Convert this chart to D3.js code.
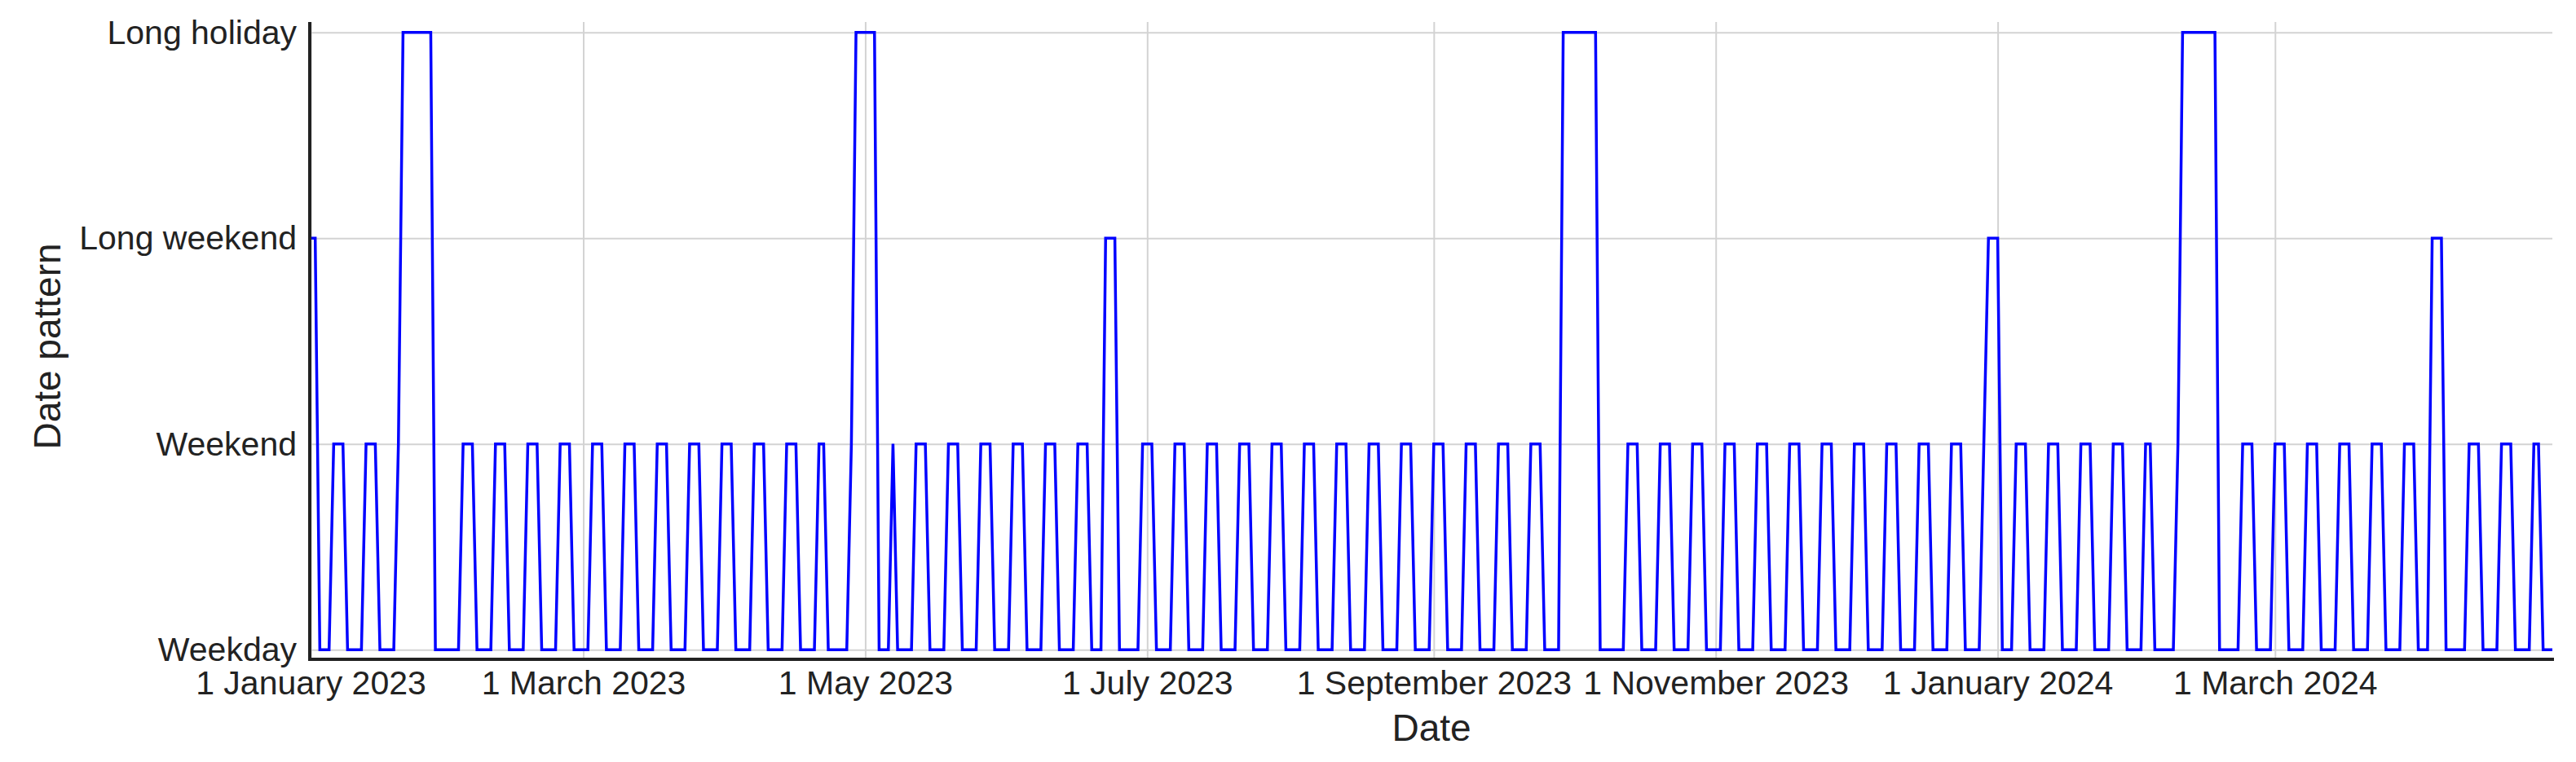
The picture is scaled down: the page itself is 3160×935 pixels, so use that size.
<!DOCTYPE html>
<html>
<head>
<meta charset="utf-8">
<script src="https://cdn.jsdelivr.net/npm/d3@7"></script>
<style>
  html, body { margin: 0; padding: 0; background: #ffffff; }
  svg { display: block; }
  text { font-family: "Liberation Sans", Arial, Helvetica, sans-serif; }
</style>
</head>
<body>
<svg id="chart" width="3160" height="935"></svg>
<script>
// ---- DATA ----
const categories = ["Weekday", "Weekend", "Long weekend", "Long holiday"];

// Daily pattern codes (index into categories), one string per month, starting 1 January 2023
const monthStarts = [
  "2023-01", "2023-02", "2023-03", "2023-04", "2023-05", "2023-06",
  "2023-07", "2023-08", "2023-09", "2023-10", "2023-11", "2023-12",
  "2024-01", "2024-02", "2024-03", "2024-04"
];
const dailyCodes = [
  "2200011100001110000133333330000",   // Jan 2023
  "0011100001110000111000011100",      // Feb 2023
  "0011100001110000111000011100001",   // Mar 2023
  "110000111000011100001100000133",    // Apr 2023
  "3330001000011100001110000111000",   // May 2023
  "011100001110000111000222000001",    // Jun 2023
  "1100001110000111000011100001110",   // Jul 2023
  "0001110000111000011100001110000",   // Aug 2023
  "111000011100001110000111000033",    // Sep 2023
  "3333330000001110000111000011100",   // Oct 2023
  "001110000111000011100001110000",    // Nov 2023
  "1110000111000011100001110000122",   // Dec 2023
  "2000111000011100001110000111000",   // Jan 2024
  "01100000133333333000001110000",     // Feb 2024
  "1110000111000011100001110000111",   // Mar 2024
  "000222000001110000111000011000"     // Apr 2024
];

const tickDates = ["2023-01-01", "2023-03-01", "2023-05-01", "2023-07-01",
                   "2023-09-01", "2023-11-01", "2024-01-01", "2024-03-01"];
const xTitle = "Date";
const yTitle = "Date pattern";

(function () {
  // ---- BUILD SERIES ----
  const parseDay = d3.utcParse("%Y-%m-%d");
  const series = [];
  monthStarts.forEach((m, i) => {
    const codes = dailyCodes[i];
    for (let k = 0; k < codes.length; k++) {
      series.push({ date: parseDay(m + "-" + String(k + 1).padStart(2, "0")), value: +codes[k] });
    }
  });

  // ---- LAYOUT ----
  const pL = 381, pR = 3131, pT = 27, pB = 809;
  const svg = d3.select("#chart");

  const x = d3.scaleUtc()
    .domain(d3.extent(series, d => d.date))
    .range([pL, pR]);
  const y = d3.scaleLinear()
    .domain([-0.047, 3.05])
    .range([pB, pT]);

  const ticks = tickDates.map(parseDay);
  const fmt = d3.utcFormat("%-d %B %Y");
  const font = '"Liberation Sans", Arial, sans-serif';
  const textCol = "#222222";

  // Gridlines (vertical)
  const gx = svg.append("g")
    .attr("transform", `translate(0,${pB})`)
    .call(d3.axisBottom(x).tickValues(ticks).tickSize(-(pB - pT)).tickFormat(""));
  gx.select(".domain").remove();
  gx.selectAll("line").attr("stroke", "#d3d3d3").attr("stroke-width", 2);

  // Gridlines (horizontal)
  const gy = svg.append("g")
    .attr("transform", `translate(${pL - 1},0)`)
    .call(d3.axisLeft(y).tickValues([0, 1, 2, 3]).tickSize(-(pR - pL + 1)).tickFormat(""));
  gy.select(".domain").remove();
  gy.selectAll("line").attr("stroke", "#d3d3d3").attr("stroke-width", 2);

  // Line
  svg.append("path")
    .datum(series)
    .attr("fill", "none")
    .attr("stroke", "#0000ff")
    .attr("stroke-width", 3.5)
    .attr("d", d3.line().x(d => x(d.date)).y(d => y(d.value)));

  // X axis
  const ax = svg.append("g")
    .attr("transform", `translate(0,${pB})`)
    .call(d3.axisBottom(x).tickValues(ticks).tickSize(0).tickSizeOuter(0).tickFormat(fmt));
  ax.select(".domain")
    .attr("stroke", "#222").attr("stroke-width", 4)
    .attr("d", `M${pL - 3},0H${pR + 2}`);
  ax.selectAll("text")
    .attr("y", 43).attr("dy", null)
    .attr("font-size", 41).attr("fill", textCol)
    .style("font-family", font);

  // Y axis
  const ay = svg.append("g")
    .attr("transform", `translate(${pL - 1},0)`)
    .call(d3.axisLeft(y).tickValues([0, 1, 2, 3]).tickSize(0).tickSizeOuter(0)
          .tickFormat(d => categories[d]));
  ay.select(".domain")
    .attr("stroke", "#222").attr("stroke-width", 4)
    .attr("d", `M0,${pT}V${pB + 2}`);
  ay.selectAll("text")
    .attr("x", -16).attr("dy", "0.33em")
    .attr("font-size", 41).attr("fill", textCol)
    .style("font-family", font);

  // Axis titles
  svg.append("text")
    .attr("x", (pL + pR) / 2).attr("y", 909)
    .attr("text-anchor", "middle")
    .attr("font-size", 46).attr("fill", textCol)
    .text(xTitle);

  svg.append("text")
    .attr("transform", `translate(74,425) rotate(-90)`)
    .attr("text-anchor", "middle")
    .attr("font-size", 46).attr("fill", textCol)
    .text(yTitle);
})();
</script>
</body>
</html>
